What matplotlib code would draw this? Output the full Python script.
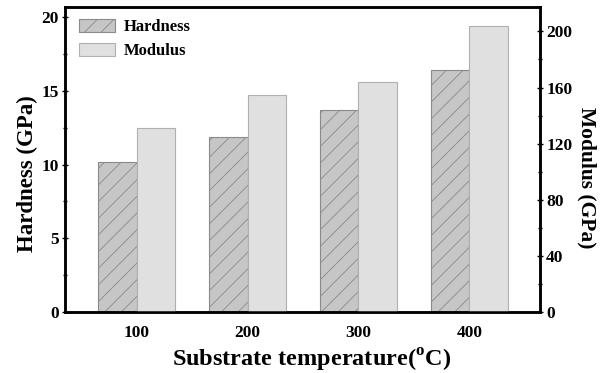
import numpy as np
import matplotlib
matplotlib.use('Agg')
import matplotlib.pyplot as plt
from matplotlib.ticker import MultipleLocator

plt.rcParams['font.family'] = 'Liberation Serif'
plt.rcParams['font.weight'] = 'bold'
plt.rcParams['mathtext.fontset'] = 'custom'
plt.rcParams['mathtext.rm'] = 'Liberation Serif:bold'
plt.rcParams['mathtext.bf'] = 'Liberation Serif:bold'
plt.rcParams['hatch.linewidth'] = 0.6

temps = ['100', '200', '300', '400']
hardness = [10.2, 11.9, 13.7, 16.4]   # GPa, left axis
modulus = [131, 155, 164, 204]        # GPa, right axis

fig = plt.figure(figsize=(6.03, 3.73), dpi=100)
ax = fig.add_axes([0.1078, 0.1635, 0.7877, 0.8177])
ax2 = ax.twinx()

x = np.arange(len(temps))
w = 0.347

ax.bar(x - w / 2, hardness, w, color='#c6c6c6', edgecolor='#8a8a8a',
       hatch='//', linewidth=0.8, label='Hardness')
ax2.bar(x + w / 2, modulus, w, color='#e0e0e0', edgecolor='#b0b0b0',
        linewidth=0.8, label='Modulus')

ax.set_xlim(-0.646, 3.637)
ax.set_ylim(0, 20.68)
ax2.set_ylim(0, 217.4)

ax.set_xticks(x)
ax.set_xticklabels(temps, fontsize=12.5, fontweight='bold')
ax.tick_params(axis='x', length=0, pad=9)

ax.yaxis.set_major_locator(MultipleLocator(5))
ax.yaxis.set_minor_locator(MultipleLocator(2.5))
ax2.yaxis.set_major_locator(MultipleLocator(40))
ax2.yaxis.set_minor_locator(MultipleLocator(20))
for a in (ax, ax2):
    a.tick_params(axis='y', which='major', direction='inout', length=5, width=1, labelsize=12.5, pad=2)
    a.tick_params(axis='y', which='minor', direction='inout', length=3, width=1)
    for lab in a.get_yticklabels():
        lab.set_fontweight('bold')
    for s in a.spines.values():
        s.set_linewidth(1.8)

ax.set_ylabel('Hardness (GPa)', fontsize=16.5, fontweight='bold', ha='center', va='center')
ax.yaxis.set_label_coords(-0.08, 0.455)
ax2.set_ylabel('Modulus (GPa)', fontsize=15.5, fontweight='bold', rotation=270, ha='center', va='center')
ax2.yaxis.set_label_coords(1.099, 0.44)
ax.set_xlabel(r'Substrate temperature($^{\mathrm{o}}$C)', fontsize=17.5, fontweight='bold')
ax.xaxis.set_label_coords(0.52, -0.115)

h1, l1 = ax.get_legend_handles_labels()
h2, l2 = ax2.get_legend_handles_labels()
ax2.legend(h1 + h2, l1 + l2, loc='upper left', frameon=False,
           prop={'weight': 'bold', 'size': 12}, handlelength=2.2,
           handleheight=0.85, handletextpad=0.5, labelspacing=0.45,
           bbox_to_anchor=(-0.006, 1.016), borderaxespad=0.6)

fig.savefig('out.png', dpi=100)
